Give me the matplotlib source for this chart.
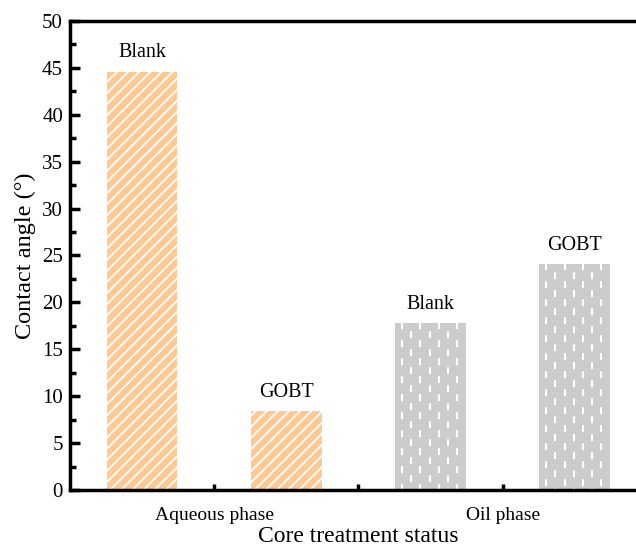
import matplotlib
matplotlib.use("Agg")
import matplotlib.pyplot as plt
import numpy as np

plt.rcParams['font.family'] = ['Liberation Serif', 'DejaVu Serif']
plt.rcParams['hatch.color'] = 'white'
plt.rcParams['hatch.linewidth'] = 1.3

# data
bar_labels = ["Blank", "GOBT", "Blank", "GOBT"]
angles = [44.6, 8.4, 17.8, 24.1]
group_names = ["Aqueous phase", "", "Oil phase"]
orange = "#FFC993"
grey = "#CCCCCC"

fig = plt.figure(figsize=(6.36, 5.48), dpi=100)
ax = fig.add_axes([0.110, 0.1058, 0.907, 0.856])

x = np.arange(len(angles))
width = 0.49

# aqueous phase bars: orange with white diagonal hatch
aq = ax.bar(x[:2], angles[:2], width, color=orange, hatch='///', linewidth=0)
# oil phase bars: grey, staggered white dashes drawn on top
oil = ax.bar(x[2:], angles[2:], width, color=grey, linewidth=0)
lw = 1.5
for b in oil:
    xs = b.get_x() + np.arange(0.048, b.get_width(), 0.0637)
    top = b.get_height()
    for i, xc in enumerate(xs):
        off = 0.4 if i % 2 == 0 else 4.32 + 0.4
        ln, = ax.plot([xc, xc], [top, 0], color='white', linewidth=lw,
                      linestyle=(off, (3.36, 5.28)), solid_capstyle='butt',
                      dash_capstyle='butt')
        ln.set_clip_path(b)

for xi, v, lab in zip(x, angles, bar_labels):
    ax.text(xi, v + 1.0, lab, ha='center', va='bottom', fontsize=14.5)

ax.set_xlim(-0.5, len(angles) - 0.5)
ax.set_ylim(0, 50)
ax.set_yticks(np.arange(0, 51, 5))
ax.set_yticks(np.arange(0, 50, 2.5), minor=True)
ax.set_xticks([0.5, 1.5, 2.5])
ax.set_xticklabels(group_names)

ax.tick_params(axis='y', which='major', direction='in', length=7, width=2.5,
               labelsize=15, pad=5)
ax.tick_params(axis='y', which='minor', direction='in', length=4, width=2.5)
ax.tick_params(axis='x', which='major', direction='in', length=4, width=2.5,
               labelsize=14, pad=12)
for s in ax.spines.values():
    s.set_linewidth(2.5)

ax.set_ylabel('Contact angle (°)', fontsize=17.5, labelpad=4)
ax.set_xlabel('Core treatment status', fontsize=17, labelpad=2)

fig.savefig("out.png", dpi=100)
